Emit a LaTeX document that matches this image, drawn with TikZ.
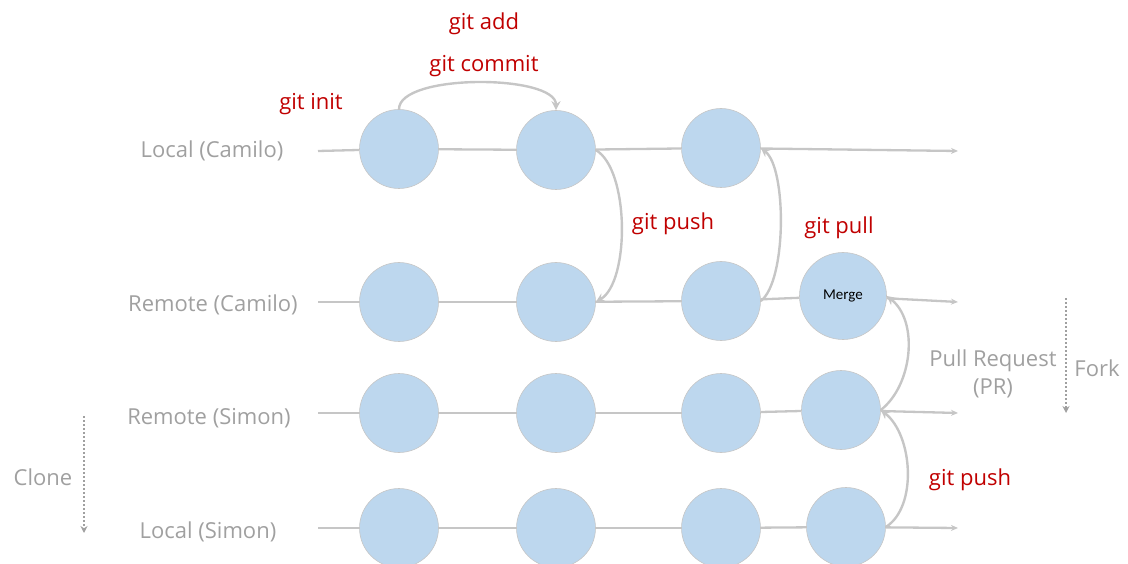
\documentclass[tikz,border=0pt]{standalone}
\usepackage{fontspec}
\setmainfont{Open Sans}
\newfontfamily\mergefont{Carlito}
\usetikzlibrary{arrows.meta}
\definecolor{lgray}{HTML}{A0A0A0}
\definecolor{linegray}{HTML}{C6C6C6}
\definecolor{gitred}{HTML}{C00000}
\definecolor{cfill}{HTML}{BDD7EE}
\tikzset{
  commit/.style={circle, fill=cfill, draw=linegray, line width=0.6pt, minimum size=79pt, inner sep=0pt},
  rowline/.style={draw=linegray, line width=2.3pt},
  rowarrow/.style={rowline, -{Stealth[length=7pt,width=6pt]}},
  arc/.style={draw=linegray, line width=2.4pt, -{Stealth[length=9pt,width=9pt]}},
  rowlabel/.style={text=lgray, font=\fontsize{22}{26}\selectfont, anchor=center},
  cmd/.style={text=gitred, font=\fontsize{22}{26}\selectfont, anchor=center},
  dotarrow/.style={draw=lgray, line width=2pt, dotted, -{Stealth[length=7pt,width=7pt]}},
}
\begin{document}
\begin{tikzpicture}[x=1pt,y=-1pt]
\useasboundingbox (0,0) rectangle (1128,564);
% row labels
\node[rowlabel] (l1) at (212,151) {Local (Camilo)};
\node[rowlabel] (l2) at (213,305) {Remote (Camilo)};
\node[rowlabel] (l3) at (209,418) {Remote (Simon)};
\node[rowlabel] (l4) at (208,532) {Local (Simon)};
% row start/end coordinates
\coordinate (s1) at (318,151); \coordinate (e1) at (958,151);
\coordinate (s2) at (318,302); \coordinate (e2) at (958,302);
\coordinate (s3) at (318,413); \coordinate (e3) at (958,413);
\coordinate (s4) at (318,528); \coordinate (e4) at (958,528);
% commits
\node[commit] (c11) at (399,149) {};
\node[commit] (c12) at (556,150) {};
\node[commit] (c13) at (721,148) {};
\node[commit] (c21) at (399,302) {};
\node[commit] (c22) at (556,302) {};
\node[commit] (c23) at (721,301) {};
\node[commit, minimum size=87pt] (c24) at (843,296) {\mergefont\fontsize{15}{17}\selectfont\raisebox{-1pt}{Merge}};
\node[commit] (c31) at (399,413) {};
\node[commit] (c32) at (556,413) {};
\node[commit] (c33) at (721,413) {};
\node[commit] (c34) at (841,410) {};
\node[commit] (c41) at (399,528) {};
\node[commit] (c42) at (556,528) {};
\node[commit] (c43) at (721,528) {};
\node[commit] (c44) at (846,527) {};
% row lines
\path[rowline] (s1) -- (c11); \path[rowline] (c11) -- (c12); \path[rowline] (c12) -- (c13); \path[rowarrow] (c13) -- (e1);
\path[rowline] (s2) -- (c21); \path[rowline] (c21) -- (c22); \path[rowline] (c22) -- (c23); \path[rowline] (c23) -- (c24); \path[rowarrow] (c24) -- (e2);
\path[rowline] (s3) -- (c31); \path[rowline] (c31) -- (c32); \path[rowline] (c32) -- (c33); \path[rowline] (c33) -- (c34); \path[rowarrow] (c34) -- (e3);
\path[rowline] (s4) -- (c41); \path[rowline] (c41) -- (c42); \path[rowline] (c42) -- (c43); \path[rowline] (c43) -- (c44); \path[rowarrow] (c44) -- (e4);
% arcs
\path[arc] (c11.north) .. controls +(0,-36) and +(0,-36) .. (c12.north);
\path[arc] (c12.east) .. controls +(34,20) and +(34,-20) .. (c22.east);
\path[arc] (c23.east) .. controls +(26,-20) and +(26,20) .. (c13.east);
\path[arc] (c34.east) .. controls +(32,-25) and +(32,25) .. (c24.east);
\path[arc] (c44.east) .. controls +(32,-20) and +(32,25) .. (c34.east);
% commands
\node[cmd] (t1) at (484,24) {git add};
\node[cmd] (t2) at (484,66) {git commit};
\node[cmd] (t3) at (311,104) {git init};
\node[cmd] (t4) at (673,224) {git push};
\node[cmd] (t5) at (839,228) {git pull};
\node[cmd] (t6) at (970,480) {git push};
% PR / fork / clone
\node[rowlabel, align=center, font=\fontsize{22}{28}\selectfont] (pr) at (993,374) {Pull Request\\(PR)};
\node[rowlabel] (fork) at (1097,368) {Fork};
\node[rowlabel] (clone) at (43,477) {Clone};
\coordinate (f1) at (1066,298); \coordinate (f2) at (1066,413);
\coordinate (k1) at (84,416); \coordinate (k2) at (84,533);
\path[dotarrow] (f1) -- (f2);
\path[dotarrow] (k1) -- (k2);
\end{tikzpicture}
\end{document}
